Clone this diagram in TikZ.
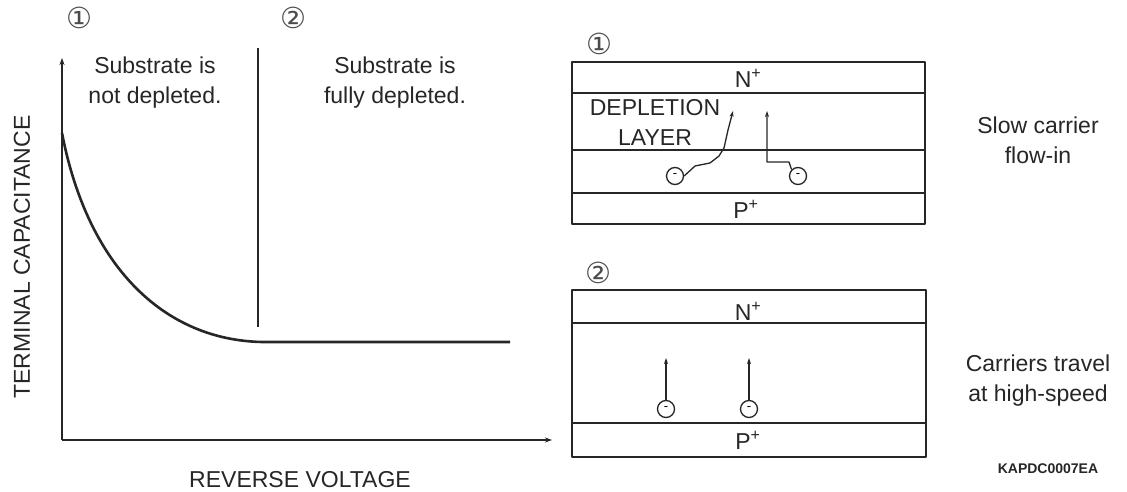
\documentclass[tikz,border=0pt]{standalone}
\usepackage{fontspec}
\setmainfont{Liberation Sans}
\newfontfamily\djv{DejaVu Sans}
\usetikzlibrary{arrows.meta}
\begin{document}
\begin{tikzpicture}[x=1pt,y=-1pt, line join=round,
  ln/.style={line width=2.1pt, draw=black!85},
  thinln/.style={line width=1.3pt, draw=black!85},
  lbl/.style={font=\fontsize{23}{30}\selectfont, text=black!85, inner sep=0pt, align=center},
  num/.style={font=\djv\fontsize{29}{29}\selectfont, text=black!70, inner sep=0pt},
  elec/.style={circle, draw=black!85, line width=1.3pt, minimum size=17pt, inner sep=0pt, font=\fontsize{13}{13}\selectfont},
  tip/.style={-{Stealth[length=7pt,width=5pt]}},
  smalltip/.style={-{Stealth[length=6pt,width=4pt]}}
]
\useasboundingbox (0,0) rectangle (1127,492);
\fill[white] (0,0) rectangle (1127,492);

% ---------- graph ----------
\coordinate (O) at (62,440);
\coordinate (ytop) at (62,58);
\coordinate (xend) at (552,440);
\draw[ln, tip] (O) -- (ytop);
\draw[ln, tip] (O) -- (xend);

\coordinate (c0) at (62,133);
\coordinate (c1) at (262,342);
\coordinate (c2) at (510,342);
\draw[line width=2.6pt, draw=black!85] (c0) .. controls (88,268) and (165,340) .. (c1) -- (c2);

\coordinate (d0) at (258,48);
\coordinate (d1) at (258,327);
\draw[ln] (d0) -- (d1);

\node[num] (n1) at (79,18) {①};
\node[num] (n2) at (293,18) {②};
\node[lbl] (t1) at (155,83) {Substrate is\\not depleted.};
\node[lbl] (t2) at (395,83) {Substrate is\\fully depleted.};
\node[lbl, rotate=90] (yl) at (22,257) {TERMINAL CAPACITANCE};
\node[lbl] (xl) at (300,480) {REVERSE VOLTAGE};

% ---------- box 1 ----------
\draw[ln] (572,62) rectangle (925,224);
\draw[ln] (572,93) -- (925,93);
\draw[ln] (572,150) -- (925,150);
\draw[ln] (572,193) -- (925,193);
\node[num] (b1n) at (599,44) {①};
\node[lbl] (N1) at (748,78) {N\textsuperscript{+}};
\node[lbl] (P1) at (746,209) {P\textsuperscript{+}};
\node[lbl] (dep) at (655,122) {DEPLETION\\LAYER};
\node[elec] (e1) at (675,176) {-};
\node[elec] (e2) at (798,176) {-};
\coordinate (a1) at (733,111);
\coordinate (a2) at (767,111);
\draw[thinln, smalltip] (e1.east) -- (695,166) -- (710,163) -- (719,156) -- (724,148) -- (728,130) -- (a1);
\draw[thinln, smalltip] (e2.north west) -- (789,162) -- (767,162) -- (a2);

% ---------- box 2 ----------
\draw[ln] (572,290) rectangle (926,457);
\draw[ln] (572,323) -- (926,323);
\draw[ln] (572,423) -- (926,423);
\node[num] (b2n) at (598,273) {②};
\node[lbl] (N2) at (748,311) {N\textsuperscript{+}};
\node[lbl] (P2) at (748,440) {P\textsuperscript{+}};
\node[elec] (e3) at (666,409) {-};
\node[elec] (e4) at (749,409) {-};
\coordinate (a3) at (666,358);
\coordinate (a4) at (749,358);
\draw[thinln, smalltip] (e3.north) -- (a3);
\draw[thinln, smalltip] (e4.north) -- (a4);

% ---------- side labels ----------
\node[lbl] (s1) at (1038,140) {Slow carrier\\flow-in};
\node[lbl] (s2) at (1038,381) {Carriers travel\\at high-speed};
\node[font=\bfseries\fontsize{14}{14}\selectfont, text=black!85, inner sep=0pt] (code) at (1048,469) {KAPDC0007EA};
\end{tikzpicture}
\end{document}
